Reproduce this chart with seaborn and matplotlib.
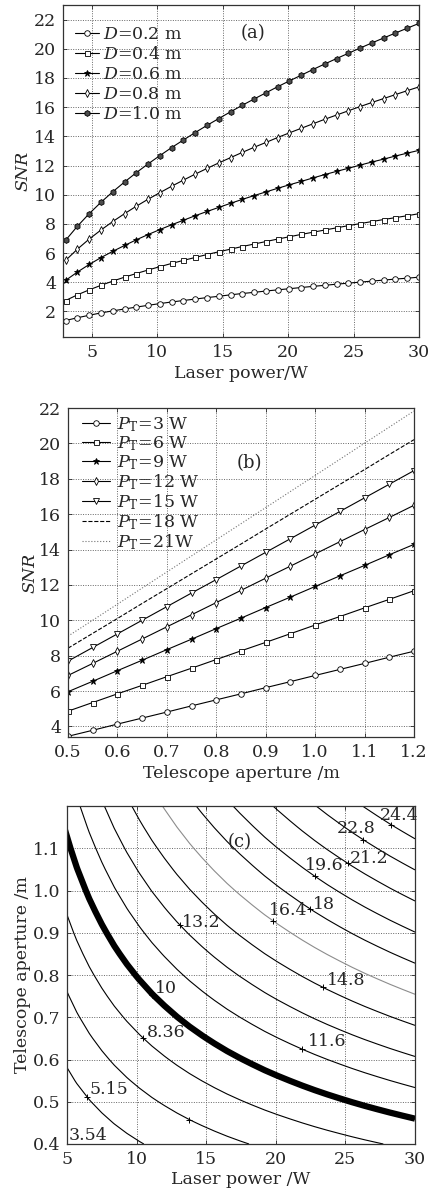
import numpy as np
import matplotlib
matplotlib.use('Agg')
import matplotlib.pyplot as plt
import seaborn as sns

sns.set_style('ticks')
plt.rcParams['font.family'] = ['DejaVu Serif']
plt.rcParams['mathtext.fontset'] = 'dejavuserif'
plt.rcParams['xtick.direction'] = 'in'
plt.rcParams['ytick.direction'] = 'in'

# ---------- (a) SNR vs laser power for five apertures ----------
power_a = [3.0, 3.9, 4.8, 5.7, 6.6, 7.5, 8.4, 9.3, 10.2, 11.1, 12.0, 12.9, 13.8, 14.7, 15.6,
           16.5, 17.4, 18.3, 19.2, 20.1, 21.0, 21.9, 22.8, 23.7, 24.6, 25.5, 26.4, 27.3,
           28.2, 29.1, 30.0]
snr_d02 = [1.38, 1.57, 1.74, 1.90, 2.04, 2.17, 2.30, 2.42, 2.54, 2.65, 2.75, 2.85, 2.95, 3.04,
           3.14, 3.23, 3.31, 3.40, 3.48, 3.56, 3.64, 3.72, 3.79, 3.87, 3.94, 4.01, 4.08, 4.15,
           4.22, 4.28, 4.35]
snr_d04 = [2.75, 3.14, 3.48, 3.79, 4.08, 4.35, 4.60, 4.84, 5.07, 5.29, 5.50, 5.70, 5.90, 6.09,
           6.27, 6.45, 6.62, 6.79, 6.96, 7.12, 7.28, 7.43, 7.58, 7.73, 7.88, 8.02, 8.16, 8.30,
           8.43, 8.56, 8.70]
snr_d06 = [4.13, 4.70, 5.22, 5.69, 6.12, 6.52, 6.91, 7.27, 7.61, 7.94, 8.25, 8.56, 8.85, 9.13,
           9.41, 9.68, 9.94, 10.19, 10.44, 10.68, 10.91, 11.15, 11.38, 11.60, 11.81, 12.03,
           12.24, 12.44, 12.65, 12.85, 13.04]
snr_d08 = [5.50, 6.27, 6.96, 7.58, 8.16, 8.70, 9.21, 9.69, 10.14, 10.58, 11.00, 11.41, 11.80,
           12.18, 12.54, 12.90, 13.25, 13.58, 13.92, 14.24, 14.55, 14.86, 15.17, 15.46, 15.75,
           16.04, 16.32, 16.59, 16.86, 17.13, 17.39]
snr_d10 = [6.88, 7.84, 8.70, 9.48, 10.20, 10.87, 11.51, 12.11, 12.68, 13.23, 13.75, 14.26,
           14.75, 15.22, 15.68, 16.13, 16.56, 16.98, 17.40, 17.80, 18.19, 18.58, 18.96, 19.33,
           19.69, 20.05, 20.40, 20.74, 21.08, 21.41, 21.74]
labels_a = ['$D$=0.2 m', '$D$=0.4 m', '$D$=0.6 m', '$D$=0.8 m', '$D$=1.0 m']

# ---------- (b) SNR vs telescope aperture for seven powers ----------
aperture_b = [0.50, 0.55, 0.60, 0.65, 0.70, 0.75, 0.80, 0.85, 0.90, 0.95, 1.00, 1.05, 1.10, 1.15, 1.20]
snr_p03 = [3.44, 3.78, 4.13, 4.47, 4.81, 5.16, 5.50, 5.84, 6.19, 6.53, 6.88, 7.22, 7.56, 7.91, 8.25]
snr_p06 = [4.86, 5.35, 5.84, 6.32, 6.81, 7.29, 7.78, 8.27, 8.75, 9.24, 9.73, 10.21, 10.70, 11.18, 11.67]
snr_p09 = [5.96, 6.55, 7.15, 7.74, 8.34, 8.93, 9.53, 10.12, 10.72, 11.31, 11.91, 12.51, 13.10, 13.70, 14.29]
snr_p12 = [6.88, 7.56, 8.25, 8.94, 9.63, 10.31, 11.00, 11.69, 12.38, 13.06, 13.75, 14.44, 15.13, 15.81, 16.50]
snr_p15 = [7.69, 8.46, 9.23, 10.00, 10.77, 11.54, 12.30, 13.07, 13.84, 14.61, 15.38, 16.15, 16.92, 17.69, 18.46]
snr_p18 = [8.42, 9.26, 10.10, 10.95, 11.79, 12.63, 13.47, 14.31, 15.16, 16.00, 16.84, 17.68, 18.52, 19.37, 20.21]
snr_p21 = [9.10, 10.00, 10.91, 11.82, 12.73, 13.64, 14.55, 15.46, 16.37, 17.28, 18.19, 19.10, 20.01, 20.92, 21.83]
labels_b = [r'$P_{\rm T}$=3 W', r'$P_{\rm T}$=6 W', r'$P_{\rm T}$=9 W', r'$P_{\rm T}$=12 W',
            r'$P_{\rm T}$=15 W', r'$P_{\rm T}$=18 W', r'$P_{\rm T}$=21W']

# ---------- (c) SNR contour over power and aperture ----------
# SNR grows linearly with D (panel b), so the D=1.0 m curve of panel (a) is scaled by D
aperture_c = [0.40, 0.45, 0.50, 0.55, 0.60, 0.65, 0.70, 0.75, 0.80, 0.85, 0.90, 0.95,
              1.00, 1.05, 1.10, 1.15, 1.20]
levels_c = [3.54, 5.15, 6.75, 8.36, 9.97, 11.6, 13.2, 14.8, 16.4, 18.0, 19.6, 21.2, 22.8, 24.4]
level_text = ['3.54', '5.15', '', '8.36', '10', '11.6', '13.2', '14.8', '16.4', '18', '19.6',
              '21.2', '22.8', '24.4']
threshold_snr = 10.0

# label anchor (power on the contour) and text offsets in pixels
label_power = [5.0, 6.43, 13.78, 10.45, 11.1, 21.86, 13.13, 23.36, 19.78, 22.45, 22.8, 25.16, 26.27, 28.3]
label_dx = [2, 3, 0, 4, 3, 6, 2, 4, -4, 3, -10, 2, -26, -12]
label_dy = [9, 7, 0, 5, 6, 7, 3, 7, 10, 4, 11, 5, 11, 9]

FS_TICK = 12.5
FS_LAB = 12.5
lw = 0.8
grid_kw = dict(linestyle=(0, (1, 1.5)), color='0.4', linewidth=0.7)

fig = plt.figure(figsize=(4.29, 11.91), dpi=100)
H = 1191.0
W = 429.0
ax1 = fig.add_axes([63 / W, (H - 337) / H, 356 / W, 332 / H])
ax2 = fig.add_axes([68 / W, (H - 737) / H, 346 / W, 329 / H])
ax3 = fig.add_axes([67 / W, (H - 1144) / H, 348 / W, 338 / H])

# ---- panel (a)
styles_a = [('o', 'w', 4.0), ('s', 'w', 3.6), ('*', 'k', 4.5), ('d', 'w', 4.2), ('h', '0.3', 4.2)]
for ys, lab, (mk, fc, ms) in zip([snr_d02, snr_d04, snr_d06, snr_d08, snr_d10], labels_a, styles_a):
    sns.lineplot(x=power_a, y=ys, ax=ax1, color='k', linewidth=lw, marker=mk, markersize=ms,
                 markerfacecolor=fc, markeredgecolor='k', markeredgewidth=0.6, label=lab)
ax1.set_xlim(2.8, 30)
ax1.set_ylim(0.25, 23)
ax1.set_xticks([5, 10, 15, 20, 25, 30])
ax1.set_yticks(range(2, 23, 2))
ax1.set_xlabel('Laser power/W', fontsize=FS_LAB, labelpad=3)
ax1.set_ylabel('SNR', fontsize=FS_LAB, fontstyle='italic', labelpad=2)
ax1.text(17.3, 21.1, '(a)', fontsize=13, ha='center', va='center')
ax1.legend(loc='upper left', frameon=False, fontsize=12.5, handlelength=1.4, handletextpad=0.2,
           labelspacing=0.17, borderaxespad=0, borderpad=0,
           bbox_to_anchor=(12 / 356, 1 - 21 / 332))

# ---- panel (b)
styles_b = [('o', 'w', 4.0, '-', 'k'), ('s', 'w', 3.6, '-', 'k'), ('*', 'k', 4.5, '-', 'k'),
            ('d', 'w', 4.2, '-', 'k'), ('v', 'w', 4.8, '-', 'k'), (None, 'w', 0, '--', 'k'),
            (None, 'w', 0, ':', '0.45')]
ys_b = [snr_p03, snr_p06, snr_p09, snr_p12, snr_p15, snr_p18, snr_p21]
for ys, lab, (mk, fc, ms, ls, col) in zip(ys_b, labels_b, styles_b):
    sns.lineplot(x=aperture_b, y=ys, ax=ax2, color=col, linewidth=lw, linestyle=ls, marker=mk,
                 markersize=ms, markerfacecolor=fc, markeredgecolor='k', markeredgewidth=0.6,
                 label=lab)
ax2.set_xlim(0.5, 1.2)
ax2.set_ylim(3.4, 22)
ax2.set_xticks(aperture_b[::2])
ax2.set_xticklabels(['%.1f' % v for v in aperture_b[::2]])
ax2.set_yticks(range(4, 23, 2))
ax2.set_xlabel('Telescope aperture /m', fontsize=FS_LAB, labelpad=3)
ax2.set_ylabel('SNR', fontsize=FS_LAB, fontstyle='italic', labelpad=0)
ax2.text(0.866, 18.9, '(b)', fontsize=13, ha='center', va='center')
ax2.legend(loc='upper left', frameon=False, fontsize=12.5, handlelength=1.6, handletextpad=0.4,
           labelspacing=0.02, borderaxespad=0, borderpad=0,
           bbox_to_anchor=(14 / 346, 1 - 7 / 329))

# ---- panel (c)
Z = np.outer(aperture_c, snr_d10)
line_cols = ['0.55' if lv == 16.4 else 'k' for lv in levels_c]
cs = ax3.contour(power_a, aperture_c, Z, levels=levels_c, colors=line_cols, linewidths=0.8)
ax3.contour(power_a, aperture_c, Z, levels=[threshold_snr], colors='k', linewidths=4.5)
ax3.set_xlim(5, 30)
ax3.set_ylim(0.4, 1.2)

for i, txt in enumerate(level_text):
    segs = [s for s in cs.allsegs[i] if len(s) > 1]
    px = label_power[i]
    if segs:
        pts = np.vstack(segs)
        order = np.argsort(pts[:, 0])
        py = np.interp(px, pts[order, 0], pts[order, 1])
    else:
        py = 0.4
    if i > 0:
        ax3.plot([px], [py], marker='+', color='k', markersize=4, markeredgewidth=0.7)
    if txt:
        ax3.annotate(txt, (px, py), xytext=(label_dx[i], label_dy[i]), textcoords='offset pixels',
                     ha='left', va='center', fontsize=12.5)

ax3.set_xticks([5, 10, 15, 20, 25, 30])
yt = [0.4, 0.5, 0.6, 0.7, 0.8, 0.9, 1.0, 1.1]
ax3.set_yticks(yt)
ax3.set_yticklabels(['%.1f' % v for v in yt])
ax3.set_xlabel('Laser power /W', fontsize=FS_LAB, labelpad=2)
ax3.set_ylabel('Telescope aperture /m', fontsize=FS_LAB, labelpad=1)
ax3.text(17.4, 1.115, '(c)', fontsize=13, ha='center', va='center')

for ax in (ax1, ax2, ax3):
    ax.grid(True, **grid_kw)
    ax.set_axisbelow(True)
    ax.tick_params(labelsize=FS_TICK, length=3, width=0.6, pad=5, top=True, right=True)
    for sp in ax.spines.values():
        sp.set_linewidth(0.9)
        sp.set_color('0.2')

fig.savefig('out.png', dpi=100)
